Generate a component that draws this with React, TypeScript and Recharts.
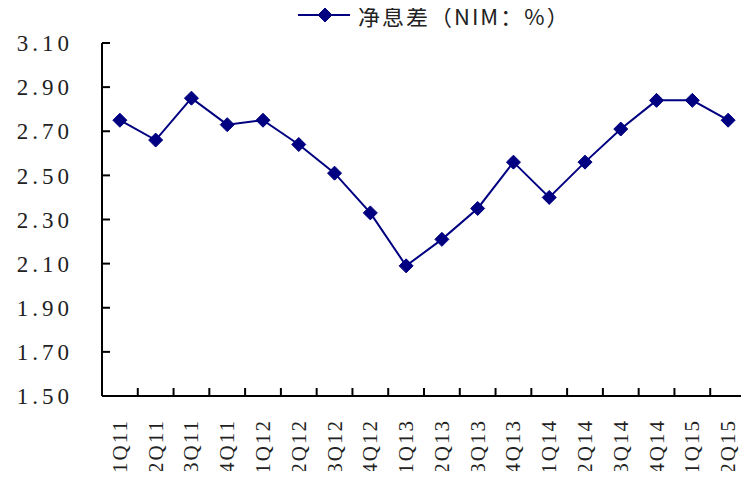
import React from "react";
import { LineChart, Line, XAxis, YAxis } from "recharts";

const categories = [
  "1Q11", "2Q11", "3Q11", "4Q11",
  "1Q12", "2Q12", "3Q12", "4Q12",
  "1Q13", "2Q13", "3Q13", "4Q13",
  "1Q14", "2Q14", "3Q14", "4Q14",
  "1Q15", "2Q15",
];
const nimValues = [
  2.75, 2.66, 2.85, 2.73,
  2.75, 2.64, 2.51, 2.33,
  2.09, 2.21, 2.35, 2.56,
  2.40, 2.56, 2.71, 2.84,
  2.84, 2.75,
];
const yTicks = [1.5, 1.7, 1.9, 2.1, 2.3, 2.5, 2.7, 2.9, 3.1];
const seriesName = "净息差（NIM：%）";

const navy = "#000080";
const textColor = "#222222";
const labelFont = "'Liberation Serif', 'DejaVu Serif', serif";

const data = categories.map((q, i) => ({ q, nim: nimValues[i] }));

function Diamond({ cx, cy, size = 7 }: { cx?: number; cy?: number; size?: number }) {
  if (cx == null || cy == null) return null;
  const s = size;
  return (
    <polygon
      points={`${cx},${cy - s} ${cx + s},${cy} ${cx},${cy + s} ${cx - s},${cy}`}
      fill={navy}
      stroke={navy}
      strokeWidth={1}
    />
  );
}

// label plus the small inward tick on the right edge of each quarter
function QuarterTick(props: any) {
  const x = Number(props.x);
  const y = Number(props.y);
  const half = Number(props.payload?.offset ?? 0);
  const ty = y + 23;
  return (
    <g>
      <line x1={x + half} y1={y} x2={x + half} y2={y - 8} stroke="#000" strokeWidth={2} />
      <text
        x={x}
        y={ty}
        transform={`rotate(-90 ${x} ${ty})`}
        textAnchor="end"
        dominantBaseline="central"
        fontFamily={labelFont}
        fontSize={21}
        letterSpacing={2}
        fill={textColor}
      >
        {props.payload.value}
      </text>
    </g>
  );
}

export default function App() {
  return (
    <div style={{ position: "relative", width: 749, height: 479, margin: -8, background: "#fff" }}>
      <div
        style={{
          position: "absolute",
          top: 0,
          left: 298,
          height: 30,
          display: "flex",
          alignItems: "center",
        }}
      >
        <svg width={54} height={30}>
          <line x1={0} y1={15} x2={52} y2={15} stroke={navy} strokeWidth={2} />
          <Diamond cx={27} cy={15} />
        </svg>
        <span
          style={{
            marginLeft: 6,
            fontFamily: "'Noto Sans CJK SC', sans-serif",
            fontSize: 22,
            color: textColor,
            letterSpacing: 2,
            lineHeight: "30px",
          }}
        >
          {seriesName}
        </span>
      </div>
      <LineChart
        width={749}
        height={479}
        data={data}
        margin={{ top: 43, right: 3, bottom: 0, left: 0 }}
      >
        <XAxis
          dataKey="q"
          scale="band"
          height={83}
          interval={0}
          axisLine={{ stroke: "#000", strokeWidth: 2 }}
          tickLine={false}
          tickSize={0}
          tickMargin={0}
          tick={<QuarterTick />}
        />
        <YAxis
          width={102}
          domain={[1.5, 3.1]}
          ticks={yTicks}
          interval={0}
          tickFormatter={(v: number) => v.toFixed(2)}
          tickSize={-8}
          tickMargin={37}
          axisLine={{ stroke: "#000", strokeWidth: 2 }}
          tickLine={{ stroke: "#000", strokeWidth: 2 }}
          tick={{ fontFamily: labelFont, fontSize: 23, letterSpacing: 4, fill: textColor }}
        />
        <Line
          dataKey="nim"
          name={seriesName}
          stroke={navy}
          strokeWidth={2}
          dot={<Diamond />}
          activeDot={false}
          isAnimationActive={false}
        />
      </LineChart>
    </div>
  );
}
